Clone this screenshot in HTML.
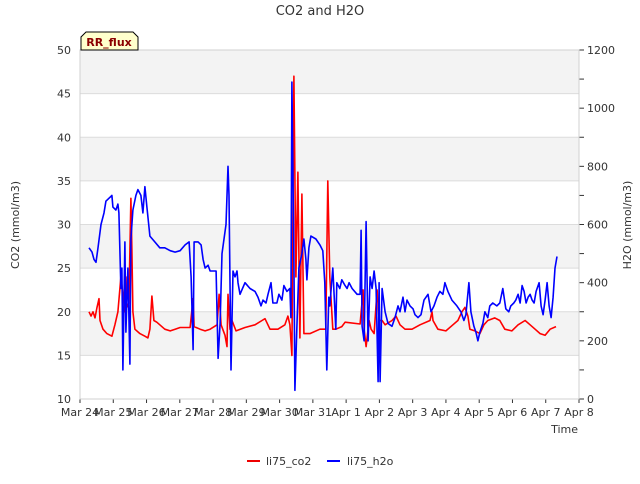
<!DOCTYPE html>
<html><head><meta charset="utf-8"><style>
body{margin:0;background:#fff;font-family:"DejaVu Sans","Liberation Sans",sans-serif}
svg text{font-family:"DejaVu Sans","Liberation Sans",sans-serif}
</style></head><body>
<svg id="c" width="640" height="480" viewBox="0 0 640 480" xmlns="http://www.w3.org/2000/svg">
<text x="320" y="15" text-anchor="middle" font-size="13" fill="#333">CO2 and H2O</text>
<g id="bands"></g>
<g id="axes"></g>
<g id="series"></g>
<text transform="translate(19,225) rotate(-90)" text-anchor="middle" font-size="11" fill="#333">CO2 (mmol/m3)</text>
<text transform="translate(631,225) rotate(-90)" text-anchor="middle" font-size="11" fill="#333">H2O (mmol/m3)</text>
<text x="578" y="433" text-anchor="end" font-size="11" fill="#333">Time</text>
<g>
<line x1="247" y1="461" x2="260" y2="461" stroke="#e00" stroke-width="2"/>
<text x="266" y="465" font-size="11" fill="#333">li75_co2</text>
<line x1="327" y1="461" x2="340" y2="461" stroke="#00f" stroke-width="2"/>
<text x="347" y="465" font-size="11" fill="#333">li75_h2o</text>
</g>
<g>
<path d="M81,50 L81,37 L86,32 L133,32 L138,37 L138,50 Z" fill="#ffffcc" stroke="#000" stroke-width="1"/>
<text x="109" y="46" text-anchor="middle" font-size="11" font-weight="bold" fill="#8b0000">RR_flux</text>
</g>
</svg>
<script>
const xTickLabels=["Mar 24","Mar 25","Mar 26","Mar 27","Mar 28","Mar 29","Mar 30","Mar 31","Apr 1","Apr 2","Apr 3","Apr 4","Apr 5","Apr 6","Apr 7","Apr 8"];
const leftTicks=[10,15,20,25,30,35,40,45,50];
const rightTicks=[0,200,400,600,800,1000,1200];
const co2Days=[0.27,0.33,0.39,0.45,0.51,0.57,0.60,0.69,0.81,0.96,1.05,1.14,1.23,1.29,1.35,1.38,1.41,1.47,1.53,1.56,1.59,1.65,1.80,1.95,2.04,2.10,2.16,2.22,2.31,2.40,2.55,2.71,2.86,3.01,3.31,3.40,3.43,3.61,3.76,3.91,4.12,4.18,4.24,4.36,4.42,4.45,4.51,4.57,4.69,4.96,5.26,5.47,5.56,5.71,5.95,6.16,6.25,6.31,6.37,6.43,6.49,6.55,6.61,6.67,6.73,6.91,7.21,7.39,7.45,7.51,7.60,7.69,7.87,7.97,8.42,8.51,8.54,8.60,8.69,8.75,8.84,8.93,8.99,9.08,9.17,9.38,9.50,9.62,9.77,9.98,10.22,10.52,10.58,10.61,10.76,11.00,11.21,11.36,11.48,11.57,11.66,11.72,11.87,12.02,12.14,12.26,12.47,12.62,12.77,12.98,13.17,13.38,13.53,13.68,13.83,13.98,14.13,14.31];
const co2Values=[20,19.5,20,19.3,20.5,21.5,19,18,17.5,17.2,18.5,20,24,22,20,24,20.5,21,33,27,20,18,17.5,17.2,17,18,21.8,19,18.8,18.5,18,17.8,18,18.2,18.2,21.5,18.3,18,17.8,18,18.5,22,18.5,17.3,16,22,18,19,17.8,18.2,18.5,19,19.2,18,18,18.5,19.5,18.5,15,47,24,36,17,33.5,17.5,17.5,18,18,35,24,18,18,18.3,18.8,18.6,22.5,18,16,19,18,17.5,22.5,19,19,18.5,19,19.5,18.5,18,18,18.5,19,20,19,18,17.8,18.5,19,20,20.5,19.5,18,17.8,17.5,18.5,19,19.3,19,18,17.8,18.5,19,18.5,18,17.5,17.3,18,18.3];
const h2oDays=[0.27,0.36,0.42,0.48,0.54,0.63,0.72,0.78,0.87,0.96,0.99,1.08,1.14,1.17,1.23,1.26,1.29,1.35,1.38,1.44,1.50,1.53,1.59,1.68,1.74,1.83,1.89,1.95,2.01,2.10,2.25,2.40,2.55,2.71,2.86,3.01,3.16,3.28,3.34,3.40,3.43,3.55,3.64,3.70,3.76,3.85,3.91,4.09,4.15,4.21,4.27,4.39,4.45,4.48,4.51,4.54,4.60,4.66,4.72,4.75,4.81,4.96,5.11,5.26,5.35,5.44,5.50,5.59,5.65,5.74,5.80,5.86,5.92,5.98,6.07,6.13,6.22,6.31,6.34,6.37,6.43,6.46,6.52,6.58,6.67,6.73,6.79,6.82,6.88,6.94,7.09,7.21,7.30,7.36,7.42,7.48,7.51,7.60,7.69,7.72,7.81,7.87,7.97,8.03,8.09,8.18,8.33,8.42,8.45,8.48,8.54,8.60,8.66,8.72,8.78,8.84,8.90,8.96,8.99,9.02,9.08,9.17,9.26,9.38,9.47,9.56,9.62,9.71,9.77,9.83,9.92,10.01,10.07,10.16,10.25,10.34,10.46,10.55,10.64,10.73,10.82,10.91,10.97,11.06,11.18,11.33,11.45,11.54,11.60,11.69,11.75,11.84,11.90,11.96,12.02,12.11,12.17,12.26,12.32,12.41,12.53,12.62,12.71,12.80,12.89,12.95,13.04,13.10,13.17,13.23,13.29,13.35,13.41,13.47,13.53,13.59,13.65,13.71,13.80,13.86,13.92,13.98,14.04,14.10,14.16,14.22,14.28,14.34];
const h2oValues=[520,505,480,470,520,600,640,680,690,700,660,650,670,640,380,450,100,540,230,450,120,550,650,700,720,700,640,730,660,560,540,520,520,510,505,510,530,540,420,170,540,540,530,480,450,460,440,440,140,260,500,600,800,700,400,100,440,420,440,400,360,400,380,370,350,320,340,330,360,400,330,330,330,360,340,390,370,380,280,1090,480,30,250,450,500,550,480,410,520,560,550,530,510,400,100,350,320,450,240,400,380,410,390,380,400,380,360,360,580,250,200,610,200,420,380,440,380,60,400,60,380,300,260,250,280,320,300,350,300,340,320,310,290,280,290,340,360,300,320,350,370,360,400,370,340,320,300,270,290,400,300,250,230,200,230,260,300,280,320,330,320,330,380,310,300,320,330,340,360,330,390,370,330,350,360,340,330,370,400,320,290,340,400,320,280,350,450,490];

const NS="http://www.w3.org/2000/svg";
const L=80,R=579,T=50,B=399;
const xs=d=>L+(R-L)*d/15;
const yL=v=>B-(B-T)*(v-10)/40;
const yR=v=>B-(B-T)*v/1200;
function mk(tag,attrs,parent){const e=document.createElementNS(NS,tag);for(const k in attrs)e.setAttribute(k,attrs[k]);parent.appendChild(e);return e;}
const bands=document.getElementById('bands'),axes=document.getElementById('axes'),series=document.getElementById('series');
for(let i=0;i<leftTicks.length-1;i++){
  const a=leftTicks[i],b=leftTicks[i+1];
  if(i%2===1){const r=mk('rect',{x:L,y:yL(b),width:R-L,height:yL(a)-yL(b),fill:'#f3f3f3'},bands);
  
  }
}
leftTicks.forEach(v=>{
  const g=mk('line',{x1:L,x2:R,y1:yL(v),y2:yL(v),stroke:'#dcdcdc','stroke-width':1},axes);
  
  
  const t=mk('text',{x:L-9,y:yL(v)+4,'text-anchor':'end','font-size':11,fill:'#333'},axes);
  
  
  t.textContent=v;
});
for(let v=0;v<=1200;v+=100){
  const tk=mk('line',{x1:R,x2:R+5,y1:yR(v),y2:yR(v),stroke:'#333','stroke-width':1},axes);
  
  
}
rightTicks.forEach(v=>{
  const t=mk('text',{x:R+8,y:yR(v)+4,'font-size':11,fill:'#333'},axes);
  
  
  t.textContent=v;
});
xTickLabels.forEach((s,i)=>{
  const tk=mk('line',{x1:xs(i),x2:xs(i),y1:B,y2:B+4,stroke:'#333','stroke-width':1},axes);
  
  
  const t=mk('text',{x:xs(i),y:B+17,'text-anchor':'middle','font-size':11,fill:'#333'},axes);
  
  
  t.textContent=s;
});
const fr=mk('rect',{x:L,y:T,width:R-L,height:B-T,fill:'none',stroke:'#d0d0d0','stroke-width':1},axes);


const pc=mk('polyline',{points:co2Days.map((d,i)=>xs(d).toFixed(1)+','+yL(co2Values[i]).toFixed(1)).join(' '),fill:'none',stroke:'#f00','stroke-width':1.6,'stroke-linejoin':'round'},series);


const ph=mk('polyline',{points:h2oDays.map((d,i)=>xs(d).toFixed(1)+','+yR(h2oValues[i]).toFixed(1)).join(' '),fill:'none',stroke:'#00f','stroke-width':1.6,'stroke-linejoin':'round'},series);


</script>
</body></html>
